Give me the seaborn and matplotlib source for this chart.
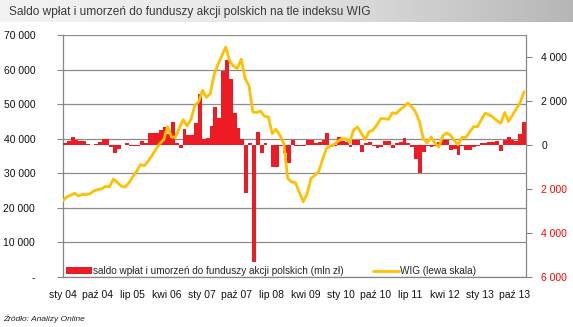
import numpy as np
import pandas as pd
import matplotlib
matplotlib.use("Agg")
import matplotlib.pyplot as plt
import seaborn as sns
from matplotlib.patches import Patch
from matplotlib.lines import Line2D
from matplotlib.colors import LinearSegmentedColormap

# ---------------- data ----------------
title = "Saldo wpłat i umorzeń do funduszy akcji polskich na tle indeksu WIG"
source = "Źródło: Analizy Online"
bar_label = "saldo wpłat i umorzeń do funduszy akcji polskich (mln zł)"
line_label = "WIG (lewa skala)"

# monthly net flows, mln zł (right axis), Jan 2004 .. Dec 2013
flows = [100, 190, 350, 225, 180, 180, 30, 20, 30, 120, 270, 270,
         -80, -350, -180, -20, 80, -30, -50, -50, 160, 75, 530, 530,
         560, 670, 820, 500, 1040, 100, -130, 750, 450, 450, 1000, 2300,
         275, 320, 850, 1750, 1250, 3350, 3850, 3000, 1450, 780, 260, -2170,
         75, -5310, 600, -345, 100, -20, -980, -980, -30, -350, -800, 240,
         -60, -50, -50, 210, 225, 105, 150, 225, 560, -105, -50, 350,
         200, 150, -100, 225, 225, -300, 90, 120, -60, -150, -100, 180,
         180, -150, 100, 150, 300, 100, -75, -620, -1270, -300, -30, -100,
         -60, 150, 225, 225, -225, -200, -470, -30, -220, -220, -100, -60,
         80, 90, 120, 150, 200, -255, 225, 375, 225, 200, 500, 1050]

# WIG index (left axis)
wig = [22100, 23200, 23700, 24200, 23400, 23900, 23800, 24100, 24900, 25300, 25500, 26200,
       26100, 28300, 27400, 26300, 26000, 27200, 29000, 30600, 32500, 32200, 33500, 35200,
       37000, 38600, 39700, 43500, 40500, 40400, 43000, 45500, 43700, 45500, 49500, 50700,
       54000, 52000, 53000, 58500, 61500, 64000, 66500, 62500, 61000, 60300, 63000, 57500,
       55300, 47700, 47600, 48000, 46500, 46300, 41500, 42700, 41000, 38500, 28500, 27500,
       27300, 24500, 21800, 24000, 28500, 29400, 30500, 34000, 37200, 37900, 38400, 39300,
       40000, 40000, 38900, 42600, 43400, 41600, 39800, 42000, 42500, 44000, 45800, 45800,
       45600, 47500, 47300, 48400, 49300, 50300, 49200, 47700, 45000, 40000, 38800, 40500,
       38700, 37600, 40800, 41700, 41000, 39400, 38300, 40400, 40400, 42000, 43500, 43500,
       45600, 47400, 46900, 46200, 45200, 44500, 47600, 45000, 46800, 48600, 50500, 53600]

x_tick_months = [0, 9, 18, 27, 36, 45, 54, 63, 72, 81, 90, 99, 108, 117]
x_tick_labels = ["sty 04", "paź 04", "lip 05", "kwi 06", "sty 07", "paź 07", "lip 08",
                 "kwi 09", "sty 10", "paź 10", "lip 11", "kwi 12", "sty 13", "paź 13"]
left_ticks = [0, 10000, 20000, 30000, 40000, 50000, 60000, 70000]
left_tick_labels = ["-", "10 000", "20 000", "30 000", "40 000", "50 000", "60 000", "70 000"]
right_ticks = [-6000, -4000, -2000, 0, 2000, 4000]
right_tick_labels = ["6 000", "4 000", "2 000", "0", "2 000", "4 000"]

# ---------------- style ----------------
sns.set_style("white")
plt.rcParams["font.family"] = ["Liberation Sans", "DejaVu Sans"]

RED = "#ED1C24"
GOLD = "#FFC000"
GRID = "#8C8C8C"
SPINE = "#868686"

n = len(flows)
bars_df = pd.DataFrame({"pos": np.arange(n) + 0.5, "flow": flows})
line_df = pd.DataFrame({"pos": np.linspace(0, 119.5, len(wig)), "wig": wig})

W, H = 573, 327
fig = plt.figure(figsize=(W / 100, H / 100), dpi=100)
fig.patch.set_facecolor("white")

rect = [63 / W, 50 / H, 463 / W, 242 / H]
axg = fig.add_axes(rect)          # left scale, grid, x axis
axb = axg.twinx()                 # right scale, bars
axl = fig.add_axes(rect, sharex=axg, sharey=axg)  # line on top
axg.set_zorder(1)
axb.set_zorder(2)
axl.set_zorder(3)
axb.patch.set_visible(False)
axl.patch.set_visible(False)

# bars
sns.barplot(data=bars_df, x="pos", y="flow", ax=axb, native_scale=True, width=1,
            color=RED, saturation=1, errorbar=None, linewidth=0, edgecolor=RED)
# line
sns.lineplot(data=line_df, x="pos", y="wig", ax=axl, color=GOLD, linewidth=2.0,
             legend=False, sort=False)

# left / main axis
axg.set_xlim(0, 120)
axg.set_ylim(0, 70000)
axg.set_xticks(x_tick_months)
axg.set_xticklabels(x_tick_labels)
axg.set_yticks(left_ticks)
axg.set_yticklabels(left_tick_labels)
axg.tick_params(axis="both", direction="out", length=4, width=0.8, color=SPINE,
                labelsize=7.5, labelcolor="#111111")
axg.tick_params(axis="y", pad=16)
axg.tick_params(axis="x", pad=5)
axg.grid(axis="y", color=GRID, linewidth=0.9)
axg.grid(axis="x", visible=False)
axg.set_axisbelow(True)
for s in ["top", "right"]:
    axg.spines[s].set_visible(False)
for s in ["left", "bottom"]:
    axg.spines[s].set_color(SPINE)
    axg.spines[s].set_linewidth(0.9)
axg.set_xlabel("")
axg.set_ylabel("")

# right axis
axb.set_ylim(-6000, 5000)
axb.set_yticks(right_ticks)
axb.set_yticklabels(right_tick_labels)
axb.tick_params(axis="y", direction="out", length=4, width=0.8, color=SPINE,
                labelsize=7.5, pad=7)
for lab, v in zip(axb.get_yticklabels(), right_ticks):
    lab.set_color("#FF0000" if v < 0 else "#111111")
for s in ["top", "left", "bottom"]:
    axb.spines[s].set_visible(False)
axb.spines["right"].set_color(SPINE)
axb.spines["right"].set_linewidth(0.9)
axb.set_xlabel("")
axb.set_ylabel("")

axl.axis("off")
axg.set_xlim(0, 120)

# legend
handles = [Patch(facecolor=RED, edgecolor="none"),
           Line2D([0], [0], color=GOLD, linewidth=2.0)]
axl.legend(handles, [bar_label, line_label], ncol=2, loc="lower left",
           bbox_to_anchor=(0.004, 0.0), frameon=False, fontsize=7.2,
           handlelength=2.6, handleheight=0.7, handletextpad=0.15,
           columnspacing=2.9, borderpad=0.1, borderaxespad=0.0)

# title band with gradient
bax = fig.add_axes([0, 1 - 22 / H, 1, 22 / H])
cmap = LinearSegmentedColormap.from_list("band", ["#f3f3f3", "#e6e6e6", "#b6b6b6"])
grad = np.linspace(0, 1, 256).reshape(1, -1)
bax.imshow(grad, aspect="auto", cmap=cmap, extent=[0, 1, 0, 1])
bax.axis("off")
fig.text(9 / W, 1 - 12 / H, title, fontsize=8.6, color="#3a3a3a", va="center", ha="left")

# source
fig.text(3 / W, 1 - 319 / H, source, fontsize=6, style="italic", color="#222222",
         va="center", ha="left")

fig.savefig("out.png", dpi=100)
